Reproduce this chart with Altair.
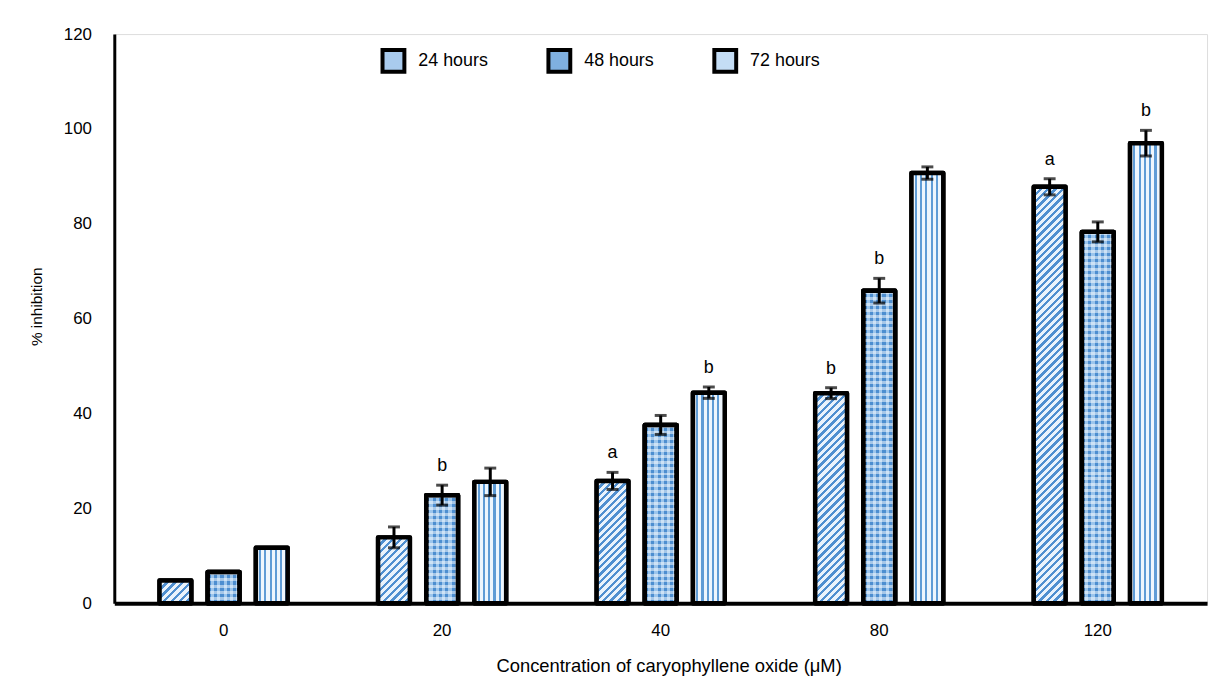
import altair as alt
import pandas as pd

# ---- data ----
concs = ["0", "20", "40", "80", "120"]
series = ["24 hours", "48 hours", "72 hours"]
v24 = [4.8, 13.9, 25.8, 44.3, 87.8]
v48 = [6.6, 22.8, 37.6, 65.9, 78.3]
v72 = [11.7, 25.6, 44.4, 90.7, 97.0]
e24 = [0, 2.2, 1.8, 1.15, 1.7]
e48 = [0, 2.1, 2.0, 2.6, 2.1]
e72 = [0, 2.9, 1.2, 1.3, 2.7]
l24 = ["", "", "a", "b", "a"]
l48 = ["", "b", "", "b", ""]
l72 = ["", "", "b", "", "b"]

rows = []
for s, vals, errs, labs in [(series[0], v24, e24, l24), (series[1], v48, e48, l48), (series[2], v72, e72, l72)]:
    for c, v, e, l in zip(concs, vals, errs, labs):
        rows.append({"conc": c, "series": s, "value": v, "err": e,
                     "lo": v - e, "hi": v + e, "label": l})
df = pd.DataFrame(rows)

# ---- layout constants ----
W, H = 1100, 573
YMAX = 120
X_PI, X_PO = 0.414, 0.207
OFF_PI = 0.34
band_w = (W / 5) * (1 - X_PI)
bar_w = band_w / (3 - OFF_PI) * (1 - OFF_PI)
FONT = "Liberation Sans"

BLUE = "#4f8fd0"
LIGHT = "#eaf3fc"


def stripes(c1, c2, n, frac=0.5):
    stops = []
    for i in range(n):
        a, b, c = i / n, (i + frac) / n, (i + 1) / n
        stops += [{"offset": round(a, 5), "color": c1}, {"offset": round(b, 5), "color": c1},
                  {"offset": round(b, 5), "color": c2}, {"offset": round(c, 5), "color": c2}]
    return stops


x_enc = alt.X("conc:N", sort=concs,
              scale=alt.Scale(domain=concs, paddingInner=X_PI, paddingOuter=X_PO),
              axis=alt.Axis(title="Concentration of caryophyllene oxide (μM)", labelAngle=0,
                            ticks=False, labelPadding=19, domainColor="black", domainWidth=4,
                            labelFontSize=17, labelFont=FONT, labelColor="black",
                            titleFontSize=18.5, titleFont=FONT, titleFontWeight="normal",
                            titleColor="black", titleY=54, titleX=558, titleBaseline="top"))
xoff_enc = alt.XOffset("series:N", sort=series,
                       scale=alt.Scale(domain=series, paddingInner=OFF_PI, paddingOuter=0))


def y_enc(field):
    return alt.Y(f"{field}:Q", scale=alt.Scale(domain=[0, YMAX], nice=False, zero=True),
                 axis=alt.Axis(title="% inhibition", values=[0, 20, 40, 60, 80, 100, 120],
                               grid=False, ticks=False, labelPadding=23, domainColor="black",
                               domainWidth=3, labelFontSize=17, labelFont=FONT,
                               labelColor="black", labelFlush=False, labelOverlap=False,
                               titleFontSize=15.5, titleFont=FONT, titleFontWeight="normal",
                               titleColor="black", titleX=-78, titleY=274,
                               titleBaseline="middle"))


base = alt.Chart(df)

# base layer: solid fill (drives the legend)
base_bars = base.mark_bar(stroke="black", strokeWidth=4.5, strokeJoin="round").encode(
    x=x_enc, xOffset=xoff_enc, y=y_enc("value"),
    fill=alt.Fill("series:N", sort=series,
                  scale=alt.Scale(domain=series, range=["#a9cbee", "#7fb0e0", "#c4ddf5"]),
                  legend=alt.Legend(title=None, orient="none", legendX=268, legendY=14,
                                    direction="horizontal", symbolType="square",
                                    symbolSize=484, symbolStrokeColor="black",
                                    symbolStrokeWidth=4, symbolOpacity=1,
                                    labelFontSize=18, labelFont=FONT, labelColor="black",
                                    labelOffset=12, columnPadding=52, padding=0)),
)

layers = [base_bars]


def bar_layer(filt, fill):
    return base.transform_filter(filt).mark_bar(
        fill=fill, stroke="black", strokeWidth=4.5, strokeJoin="round").encode(
        x=x_enc, xOffset=xoff_enc, y=y_enc("value"))


# 24 hours: diagonal stripes, one gradient per bar (45 degrees in pixel space)
P24 = 7.5
for c, v in zip(concs, v24):
    h = v / YMAX * H
    w = bar_w
    k = (w + h) / (w * w + h * h)
    n = max(1, round((w + h) / P24))
    grad = {"gradient": "linear", "x1": 0, "y1": 0, "x2": w * k, "y2": h * k,
            "stops": stripes(BLUE, LIGHT, n, 0.45)}
    layers.append(bar_layer(f"datum.conc == '{c}' && datum.series == '{series[0]}'", grad))

# 48 hours: dotted look = vertical stripes + translucent horizontal stripes
n48v = max(1, round(bar_w / 6.0))
grad48v = {"gradient": "linear", "x1": 0, "y1": 0, "x2": 1, "y2": 0,
           "stops": stripes("#4d8ed0", "#9cc5ec", n48v, 0.5)}
layers.append(bar_layer(f"datum.series == '{series[1]}'", grad48v))
for c, v in zip(concs, v48):
    h = v / YMAX * H
    n = max(1, round(h / 6.0))
    grad = {"gradient": "linear", "x1": 0, "y1": 0, "x2": 0, "y2": 1,
            "stops": stripes("rgba(255,255,255,0.5)", "rgba(255,255,255,0)", n, 0.5)}
    layers.append(bar_layer(f"datum.conc == '{c}' && datum.series == '{series[1]}'", grad))

# 72 hours: vertical stripes
n72 = max(1, round(bar_w / 5.3))
grad72 = {"gradient": "linear", "x1": 0, "y1": 0, "x2": 1, "y2": 0,
          "stops": stripes("#eef6fd", "#5f9cd6", n72, 0.6)}
layers.append(bar_layer(f"datum.series == '{series[2]}'", grad72))

# error bars
eb = base.transform_filter("datum.err > 0")
rules = eb.mark_rule(color="black", strokeWidth=3).encode(
    x=x_enc, xOffset=xoff_enc, y=y_enc("lo"), y2="hi:Q")
cap_lo = eb.mark_tick(color="black", thickness=3, size=12, orient="horizontal").encode(
    x=x_enc, xOffset=xoff_enc, y=y_enc("lo"))
cap_hi = eb.mark_tick(color="black", thickness=3, size=12, orient="horizontal").encode(
    x=x_enc, xOffset=xoff_enc, y=y_enc("hi"))
labels = base.transform_filter("datum.label != ''").mark_text(
    dy=-19, fontSize=18, font=FONT, color="black", baseline="middle").encode(
    x=x_enc, xOffset=xoff_enc, y=y_enc("hi"), text="label:N")

layers += [rules, cap_lo, cap_hi, labels]

chart = alt.layer(*layers).properties(
    width=W, height=H,
    autosize=alt.AutoSizeParams(type="none"),
    padding={"left": 107, "top": 24, "right": 10, "bottom": 80},
).configure_view(stroke=None).configure(background="white")

chart.save("out.html", embed_options={"renderer": "svg", "actions": False})
